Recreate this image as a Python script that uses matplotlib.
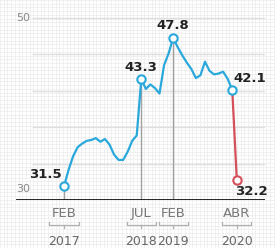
import numpy as np
import matplotlib.pyplot as plt

# monthly values, FEB 2017 .. MAR 2020 (blue), then ABR 2020 (red)
values = [31.5, 33.3, 34.8, 35.8, 36.2, 36.5, 36.6, 36.8, 36.4, 36.7,
          36.1, 35.0, 34.4, 34.4, 35.3, 36.5, 37.1, 43.3, 42.2, 42.7,
          42.3, 41.7, 44.8, 46.1, 47.8, 46.8, 45.9, 45.1, 44.4, 43.4,
          43.7, 45.2, 44.2, 43.8, 43.9, 44.1, 43.3, 42.1]
last_value = 32.2
months = np.arange(len(values))
last_month = len(values)

tick_pos = [0, 17, 24, 38]
tick_month = ["FEB", "JUL", "FEB", "ABR"]
tick_year = ["2017", "2018", "2019", "2020"]

blue = "#2aa8dc"
red = "#d4505a"

fig = plt.figure(figsize=(2.75, 2.48), dpi=100)
fig.patch.set_facecolor("white")

# faint graph-paper background
bg = fig.add_axes([0, 0, 1, 1], zorder=-5)
bg.set_xlim(0, 275)
bg.set_ylim(248, 0)
for p in np.arange(0, 276, 3.7):
    bg.axvline(p, color="#eeeeee", lw=0.6)
for p in np.arange(0, 249, 3.7):
    bg.axhline(p, color="#eeeeee", lw=0.6)
bg.axis("off")

ax = fig.add_axes([16/275, 48/248, 249/275, 200/248])
ax.set_xlim(-10.55, 44.2)
ax.set_ylim(30, 30 + 200/9.1)
ax.axis("off")

for g in [34, 38, 42, 46, 50]:
    ax.hlines(g, -7, 44.2, color="#dedede", lw=1, zorder=1)

ax.text(-10.55, 50, "50", color="#888888", fontsize=8, va="center", ha="left")
ax.text(-10.55, 31.2, "30", color="#888888", fontsize=8, va="center", ha="left")

# guide lines
for i in [0, 17, 24]:
    ax.vlines(i, 30, values[i], color="#a0a0a0", lw=1, zorder=2)

ax.plot(months, values, color=blue, lw=1.6, zorder=3, solid_joinstyle="round")
ax.plot([months[-1], last_month], [values[-1], last_value], color=red, lw=1.6, zorder=3)

for i in [0, 17, 24, len(values) - 1]:
    ax.plot(i, values[i], "o", ms=6, mfc="white", mec=blue, mew=1.5, zorder=4)
ax.plot(last_month, last_value, "o", ms=6, mfc="white", mec=red, mew=1.5, zorder=4)

ax.axhline(30, color="#111111", lw=2, zorder=5)

lab = dict(fontsize=9.5, fontweight="bold", color="#222222")
ax.text(-0.5, 32.8, "31.5", ha="right", va="center", **lab)
ax.text(17, 44.6, "43.3", ha="center", va="center", **lab)
ax.text(24, 49.2, "47.8", ha="center", va="center", **lab)
ax.text(37.2, 43.3, "42.1", ha="left", va="center", **lab)
ax.text(37.6, 30.9, "32.2", ha="left", va="center", **lab)

for pos, m, y in zip(tick_pos, tick_month, tick_year):
    ax.text(pos, 28.55, m, ha="center", va="center", fontsize=9.5,
            color="#777777", clip_on=False)
    ax.text(pos, 25.4, y, ha="center", va="center", fontsize=9,
            color="#666666", clip_on=False)
    ax.plot([pos - 3.2, pos - 3.2, pos + 3.2, pos + 3.2],
            [27.6, 27.25, 27.25, 27.6], color="#b0b0b0", lw=0.9, clip_on=False)
    ax.plot([pos, pos], [27.25, 26.95], color="#b0b0b0", lw=0.9, clip_on=False)

fig.savefig("out.png", dpi=100)
